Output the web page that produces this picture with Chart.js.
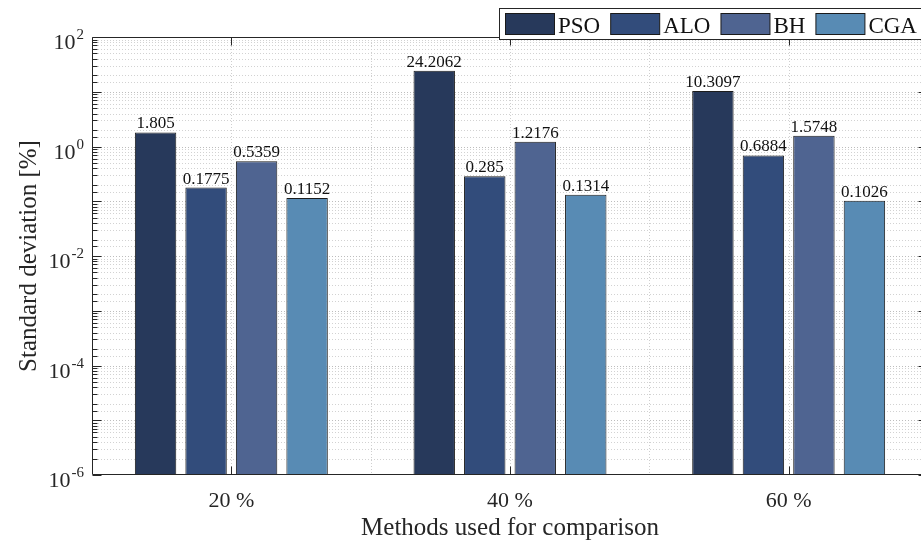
<!DOCTYPE html>
<html>
<head>
<meta charset="utf-8">
<script src="https://cdn.jsdelivr.net/npm/chart.js@4.4.1/dist/chart.umd.min.js"></script>
<style>
  html, body { margin: 0; padding: 0; background: #fff; overflow: hidden; width: 921px; height: 541px; }
  #wrap { position: relative; width: 935px; height: 541px; }
</style>
</head>
<body>
<div id="wrap"><canvas id="chart" width="935" height="541"></canvas></div>
<script>
// Standard deviation per method, grouped by share
const categories = ['20 %', '40 %', '60 %'];
const methods = ['PSO', 'ALO', 'BH', 'CGA'];
const psoValues = [1.805, 24.2062, 10.3097];
const aloValues = [0.1775, 0.285, 0.6884];
const bhValues = [0.5359, 1.2176, 1.5748];
const cgaValues = [0.1152, 0.1314, 0.1026];
const methodColors = ['#27395b', '#324c7b', '#4f6491', '#588bb4'];
const yLabelExponents = [2, 0, -2, -4, -6];
const yMin = 1e-6;
const yMax = 1e2;

const seriesValues = [psoValues, aloValues, bhValues, cgaValues];
const SERIF = '"Liberation Serif", "Times New Roman", serif';
const INK = '#262626';

const isDecade = v => Math.abs(Math.log10(v) - Math.round(Math.log10(v))) < 1e-9;

function line(ctx, x1, y1, x2, y2) {
  ctx.beginPath();
  ctx.moveTo(x1, y1);
  ctx.lineTo(x2, y2);
  ctx.stroke();
}

const decorations = {
  id: 'decorations',
  beforeDatasetsDraw(chart) {
    const { ctx, chartArea: ca, scales: { x, y } } = chart;
    ctx.save();
    ctx.lineWidth = 1;
    ctx.setLineDash([1, 2]);
    // horizontal grid: decades and minor steps
    y.ticks.forEach(t => {
      const py = Math.round(y.getPixelForValue(t.value)) + 0.5;
      if (py <= ca.top + 1 || py >= ca.bottom - 1) return;
      ctx.strokeStyle = isDecade(t.value) ? '#bdbdbd' : '#d2d2d2';
      line(ctx, ca.left, py, ca.right, py);
    });
    // vertical grid: category centres and boundaries
    ctx.strokeStyle = '#cfcfcf';
    categories.forEach((c, i) => {
      const px = Math.round(x.getPixelForValue(i)) + 0.5;
      line(ctx, px, ca.top, px, ca.bottom);
      if (i > 0) {
        const bx = Math.round((x.getPixelForValue(i) + x.getPixelForValue(i - 1)) / 2) + 0.5;
        line(ctx, bx, ca.top, bx, ca.bottom);
      }
    });
    ctx.restore();
  },
  afterDatasetsDraw(chart) {
    const { ctx, chartArea: ca, scales: { x, y } } = chart;
    ctx.save();
    ctx.setLineDash([]);
    ctx.strokeStyle = INK;
    ctx.lineWidth = 1;

    // axes box
    const L = Math.round(ca.left) + 0.5, R = Math.round(ca.right) - 0.5;
    const T = Math.round(ca.top) + 0.5, B = Math.round(ca.bottom) - 0.5;
    line(ctx, L, T, R, T);
    line(ctx, L, B, R, B);
    line(ctx, L, T, L, B);
    line(ctx, R, T, R, B);

    // inward ticks on the y axes
    y.ticks.forEach(t => {
      const py = Math.round(y.getPixelForValue(t.value)) + 0.5;
      const len = isDecade(t.value) ? 9 : 5;
      line(ctx, L, py, L + len, py);
      line(ctx, R, py, R - len, py);
    });
    // inward ticks on the x axes
    categories.forEach((c, i) => {
      const px = Math.round(x.getPixelForValue(i)) + 0.5;
      line(ctx, px, B, px, B - 8);
      line(ctx, px, T, px, T + 8);
    });

    ctx.fillStyle = INK;
    // y tick labels as powers of ten
    yLabelExponents.forEach(e => {
      const py = y.getPixelForValue(Math.pow(10, e));
      const sup = String(e);
      ctx.font = '15px ' + SERIF;
      const supW = ctx.measureText(sup).width;
      const right = ca.left - 8;
      ctx.textAlign = 'right';
      ctx.textBaseline = 'alphabetic';
      ctx.fillText(sup, right, py + 2);
      ctx.font = '22px ' + SERIF;
      ctx.fillText('10', right - supW - 1, py + 12);
    });

    // x tick labels
    ctx.font = '22px ' + SERIF;
    ctx.textAlign = 'center';
    categories.forEach((c, i) => {
      ctx.fillText(c, x.getPixelForValue(i), 507);
    });

    // value labels above the bars
    ctx.font = '17px ' + SERIF;
    ctx.fillStyle = '#111';
    chart.data.datasets.forEach((ds, di) => {
      const meta = chart.getDatasetMeta(di);
      meta.data.forEach((bar, i) => {
        ctx.fillText(String(ds.data[i]), bar.x, bar.y - 4);
      });
    });

    // axis titles
    ctx.fillStyle = INK;
    ctx.font = '25px ' + SERIF;
    ctx.fillText('Methods used for comparison', (ca.left + ca.right) / 2, 535);
    ctx.save();
    ctx.translate(36, (ca.top + ca.bottom) / 2);
    ctx.rotate(-Math.PI / 2);
    ctx.textBaseline = 'alphabetic';
    ctx.fillText('Standard deviation [%]', 0, 0);
    ctx.restore();

    // legend box
    ctx.font = '23px ' + SERIF;
    ctx.textAlign = 'left';
    const boxL = 499.5, boxT = 8.5, boxB = 39.5;
    let cx = 505;
    const items = chart.data.datasets.map(ds => ({ label: ds.label, color: ds.backgroundColor }));
    let endX = cx;
    items.forEach(it => { endX += 49 + 4 + ctx.measureText(it.label).width + 10; });
    ctx.fillStyle = '#fff';
    ctx.fillRect(boxL, boxT, endX - boxL + 4, boxB - boxT);
    ctx.strokeStyle = INK;
    ctx.strokeRect(boxL, boxT, endX - boxL + 4, boxB - boxT);
    items.forEach(it => {
      ctx.fillStyle = it.color;
      ctx.fillRect(cx + 0.5, 13.5, 49, 21);
      ctx.strokeStyle = '#1a1a1a';
      ctx.strokeRect(cx + 0.5, 13.5, 49, 21);
      ctx.fillStyle = '#111';
      ctx.fillText(it.label, cx + 53, 33);
      cx += 49 + 4 + ctx.measureText(it.label).width + 10;
    });
    ctx.restore();
  }
};

new Chart(document.getElementById('chart'), {
  type: 'bar',
  data: {
    labels: categories,
    datasets: methods.map((m, i) => ({
      label: m,
      data: seriesValues[i],
      backgroundColor: methodColors[i],
      borderColor: '#1c1c1c',
      borderWidth: 1,
      borderSkipped: false,
      categoryPercentage: 0.725,
      barPercentage: 0.82
    }))
  },
  options: {
    responsive: false,
    animation: false,
    devicePixelRatio: 1,
    layout: { padding: { top: 37, right: 7, left: 0, bottom: 0 } },
    plugins: { legend: { display: false }, tooltip: { enabled: false } },
    scales: {
      x: {
        type: 'category',
        offset: true,
        grid: { display: false },
        border: { display: false },
        ticks: { display: false },
        afterFit: s => { s.height = 541 - 475; }
      },
      y: {
        type: 'logarithmic',
        min: yMin,
        max: yMax,
        grid: { display: false },
        border: { display: false },
        ticks: { display: false, autoSkip: false },
        afterFit: s => { s.width = 92; }
      }
    }
  },
  plugins: [decorations]
});
</script>
</body>
</html>
